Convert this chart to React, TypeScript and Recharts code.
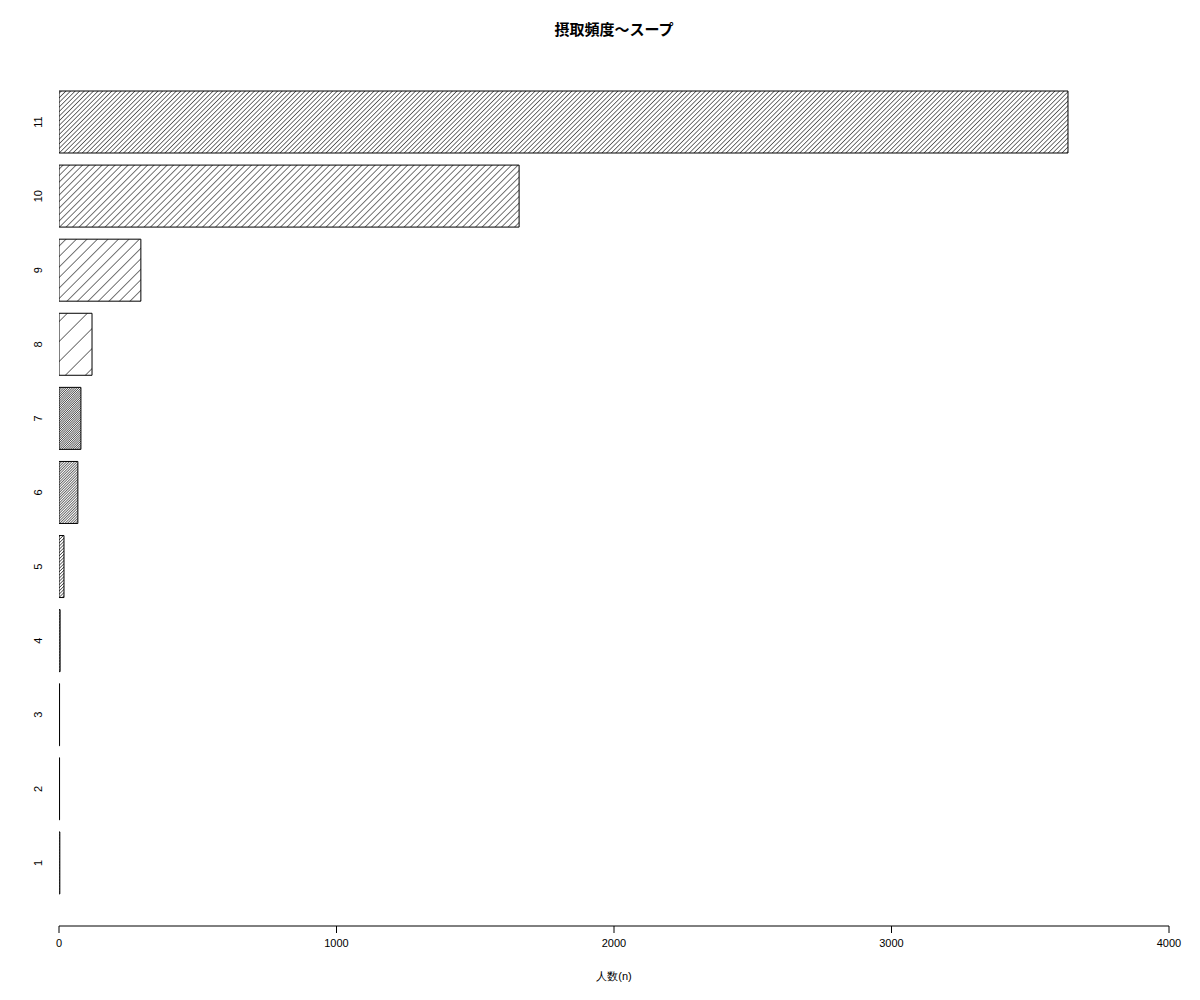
import React from 'react';
import { BarChart, Bar, XAxis, YAxis, Cell } from 'recharts';

// frequency categories (bottom to top) and number of people
const categories = ['1', '2', '3', '4', '5', '6', '7', '8', '9', '10', '11'];
const counts = [3, 2, 2, 4, 18, 68, 79, 119, 295, 1658, 3636];
const xTicks = [0, 1000, 2000, 3000, 4000];

// horizontal distance between hatch lines, per bar (px)
const HATCH_SPACING = [3, 3, 3, 3, 3.2, 2.6, 2.2, 20, 10.5, 6.5, 4.6];

const data = categories.map((name, i) => ({ name, value: counts[i] }));

const AXIS_FONT = '"Liberation Sans", Arial, sans-serif';

const YTick = (props: any) => {
  const { y, payload } = props;
  return (
    <text
      transform={`translate(42,${y}) rotate(-90)`}
      textAnchor="middle"
      fontSize={11}
      fontFamily={AXIS_FONT}
      fill="#000"
    >
      {payload.value}
    </text>
  );
};

const App: React.FC = () => {
  return (
    <div style={{ position: 'relative', width: 1200, height: 1000, background: '#fff' }}>
      <style>{'body{margin:0}'}</style>
      <svg width={0} height={0} style={{ position: 'absolute' }}>
        <defs>
          {HATCH_SPACING.map((h, i) => {
            const s = h / Math.SQRT2;
            return (
              <pattern
                key={i}
                id={`hatch-${i}`}
                patternUnits="userSpaceOnUse"
                width={s}
                height={s}
                patternTransform="rotate(45)"
              >
                <rect width={s} height={s} fill="#fff" />
                <line x1={0} y1={0} x2={0} y2={s} stroke="#000" strokeWidth={1.1} />
              </pattern>
            );
          })}
        </defs>
      </svg>
      <div
        style={{
          position: 'absolute',
          left: 59,
          width: 1110,
          top: 19,
          textAlign: 'center',
          fontFamily: '"Noto Sans CJK JP", sans-serif',
          fontWeight: 'bold',
          fontSize: 15,
          lineHeight: '20px',
        }}
      >
        摂取頻度〜スープ
      </div>
      <BarChart
        width={1200}
        height={1000}
        data={data}
        layout="vertical"
        margin={{ top: 59, right: 31, bottom: 34, left: 19 }}
      >
        <XAxis
          type="number"
          domain={[0, 4000]}
          ticks={xTicks}
          interval={0}
          height={40}
          tickSize={7}
          tickMargin={6}
          stroke="#000"
          tick={{ fill: '#000', fontSize: 11, fontFamily: AXIS_FONT }}
          allowDataOverflow
        />
        <YAxis
          type="category"
          dataKey="name"
          reversed
          width={40}
          axisLine={false}
          tickLine={false}
          padding={{ top: 26, bottom: 26 }}
          tick={<YTick />}
          interval={0}
        />
        <Bar dataKey="value" barSize={62} stroke="#000" strokeWidth={1} isAnimationActive={false}>
          {data.map((_, i) => (
            <Cell key={i} fill={`url(#hatch-${i})`} />
          ))}
        </Bar>
      </BarChart>
      <div
        style={{
          position: 'absolute',
          left: 59,
          width: 1110,
          top: 968,
          textAlign: 'center',
          fontFamily: AXIS_FONT,
          fontSize: 11,
          lineHeight: '16px',
        }}
      >
        人数(n)
      </div>
    </div>
  );
};

export default App;
